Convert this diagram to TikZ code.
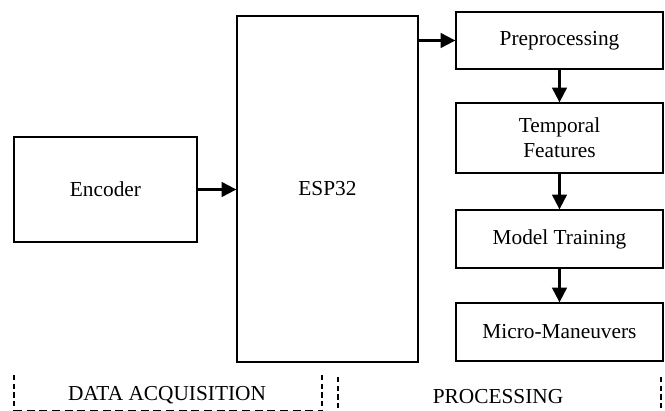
\documentclass[tikz,border=0pt]{standalone}
\usepackage{fontspec}
\setmainfont{Liberation Serif}
\usetikzlibrary{arrows.meta}
\tikzset{
  block/.style={draw, line width=1pt, align=center, inner sep=0pt,
    font=\fontsize{16}{19}\selectfont},
  link/.style={-{Triangle[length=11pt,width=11pt]}, line width=1.6pt},
  zone/.style={line width=1pt, dash pattern=on 4pt off 2.5pt},
}
\newcommand{\stage}[4]{% name, centre y, height, text
  \node[block, minimum width=155.25pt, minimum height=#3] (#1) at (559.5,#2) {#4};%
}

\begin{document}
\begin{tikzpicture}[x=0.75pt, y=-0.75pt]
  \useasboundingbox (0,0) rectangle (665,411);
  %
  \node[block, minimum width=137.25pt, minimum height=78.75pt] (enc) at (105.5,189.5) {Encoder};
  \node[block, minimum width=135.75pt, minimum height=259.5pt] (esp) at (327.5,189) {ESP32};
  \stage{prep}{40.5}{42.75pt}{Preprocessing}
  \stage{feat}{138}{52.5pt}{Temporal\\Features}
  \stage{train}{239}{43.5pt}{Model Training}
  \stage{micro}{332}{43.5pt}{Micro-Maneuvers}
  %
  \draw[link] (enc.east) -- (enc.east -| esp.west);
  \draw[link] (esp.east |- prep.west) -- (prep.west);
  \draw[link] (prep) -- (feat);
  \draw[link] (feat) -- (train);
  \draw[link] (train) -- (micro);
  %
  \node[font=\fontsize{16}{19}\selectfont] (acq) at (167,395) {DATA ACQUISITION};
  \node[font=\fontsize{16}{19}\selectfont] (proc) at (498,397) {PROCESSING};
  \draw[zone] (14,375) -- (14,410);
  \draw[zone, line width=0.6pt, dash pattern=on 6pt off 3.5pt] (14,410) -- (322,410);
  \draw[zone] (322,375) -- (322,411);
  \draw[zone] (338,377) -- (338,411);
  \draw[zone] (661,377) -- (661,411);
\end{tikzpicture}
\end{document}
